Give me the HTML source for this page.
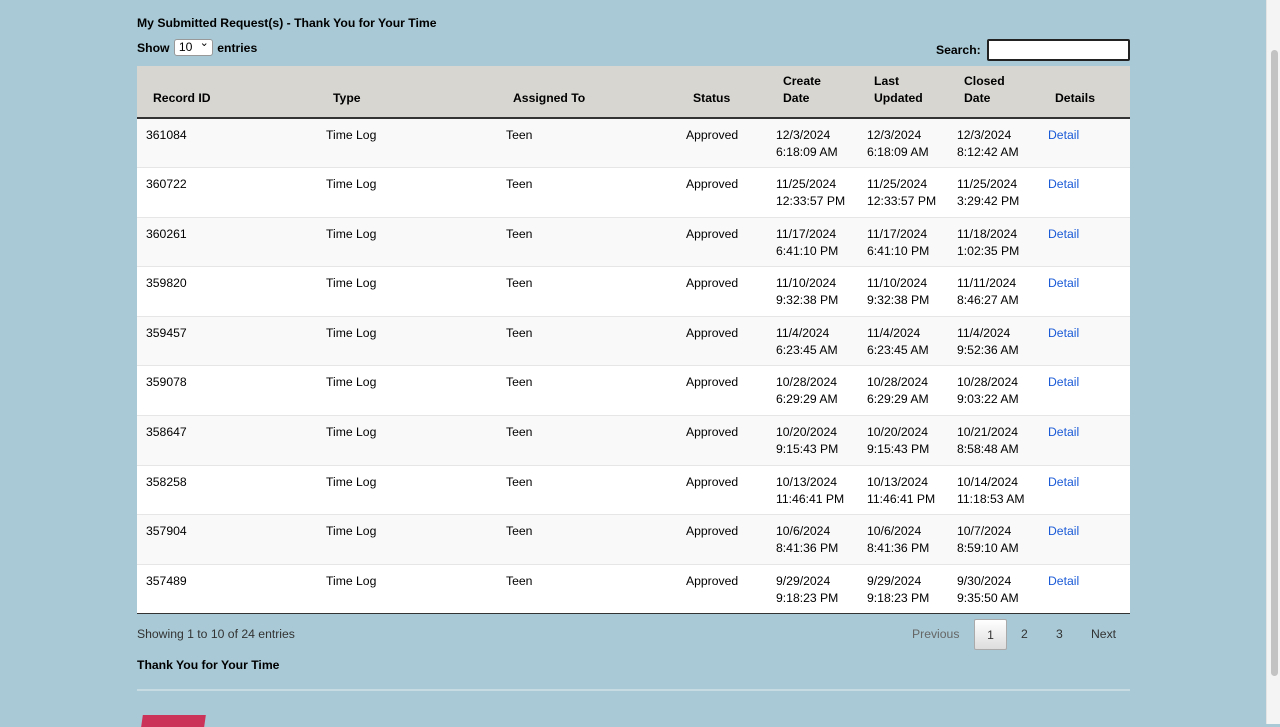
<!DOCTYPE html>
<html><head><meta charset="utf-8"><style>
*{box-sizing:border-box}
body{margin:0;width:1280px;height:724px;overflow:hidden;background:#a8c9d5;font-family:"Liberation Sans",Arial,sans-serif;font-size:12.2px;color:#000;position:relative}
.sb{position:absolute;left:1266px;top:0;width:14px;height:724px;background:#f4f4f4;border-left:1px solid #e4e4e4}
.sb div{position:absolute;left:4px;top:50px;width:7px;height:626px;background:#c3c3c3;border-radius:4px}
.t1{position:absolute;left:137px;top:16px;font-weight:bold}
.show{position:absolute;left:137px;top:41px;font-weight:bold}
.sel{display:inline-block;width:39px;height:17px;background:#fff;border:1px solid #999;border-radius:3px;font-weight:normal;vertical-align:middle;margin:-3px 1px 0;padding-left:4px;line-height:15px;position:relative}
.sel:after{content:"⌄";position:absolute;right:3px;top:-4px;font-size:11px}
.search{position:absolute;left:936px;top:43px;font-weight:bold}
.sbox{position:absolute;left:987px;top:39px;width:143px;height:22px;background:#fff;border:2px solid #222;border-radius:2px}
table{position:absolute;left:137px;top:66px;width:993px;border-collapse:collapse;table-layout:fixed}
th{background:#d7d6d1;height:52px;text-align:left;vertical-align:bottom;padding:0 4px 10px 16px;font-weight:bold;line-height:17px;border-bottom:2px solid #333}
td{height:49.6px;vertical-align:top;padding:8px 2px 0 9px;line-height:17px;border-top:1px solid #e6e6e6}
tr:first-child td{border-top:none}
tbody tr:nth-child(odd){background:#f9f9f9}
tbody tr:nth-child(even){background:#fff}
tbody tr:last-child td{border-bottom:1px solid #333}
a{color:#1a5ad7;text-decoration:none}
.info{position:absolute;left:137px;top:627px;color:#333}
.pg{position:absolute;top:619px;height:31px;line-height:31px;color:#333}
.cur{left:974px;width:33px;border:1px solid #aaa;border-radius:2px;background:linear-gradient(#fff,#ddd);text-align:center}
.ty{position:absolute;left:137px;top:658px;font-weight:bold}
.hr{position:absolute;left:137px;top:689px;width:993px;height:2px;background:#c7dbe3}
.red{position:absolute;left:142px;top:715px;width:63px;height:12px;background:#cc3358;transform:skewX(-8deg)}
</style></head><body>
<div class="sb"><div></div></div>
<div class="t1">My Submitted Request(s) - Thank You for Your Time</div>
<div class="show">Show <span class="sel">10</span> entries</div>
<div class="search">Search:</div><div class="sbox"></div>
<table>
<colgroup><col style="width:180px"><col style="width:180px"><col style="width:180px"><col style="width:90px"><col style="width:91px"><col style="width:90px"><col style="width:91px"><col style="width:91px"></colgroup>
<thead><tr><th>Record ID</th><th>Type</th><th>Assigned To</th><th>Status</th><th>Create<br>Date</th><th>Last<br>Updated</th><th>Closed<br>Date</th><th>Details</th></tr></thead>
<tbody>
<tr><td>361084</td><td>Time Log</td><td>Teen</td><td>Approved</td><td>12/3/2024<br>6:18:09 AM</td><td>12/3/2024<br>6:18:09 AM</td><td>12/3/2024<br>8:12:42 AM</td><td><a>Detail</a></td></tr>
<tr><td>360722</td><td>Time Log</td><td>Teen</td><td>Approved</td><td>11/25/2024<br>12:33:57 PM</td><td>11/25/2024<br>12:33:57 PM</td><td>11/25/2024<br>3:29:42 PM</td><td><a>Detail</a></td></tr>
<tr><td>360261</td><td>Time Log</td><td>Teen</td><td>Approved</td><td>11/17/2024<br>6:41:10 PM</td><td>11/17/2024<br>6:41:10 PM</td><td>11/18/2024<br>1:02:35 PM</td><td><a>Detail</a></td></tr>
<tr><td>359820</td><td>Time Log</td><td>Teen</td><td>Approved</td><td>11/10/2024<br>9:32:38 PM</td><td>11/10/2024<br>9:32:38 PM</td><td>11/11/2024<br>8:46:27 AM</td><td><a>Detail</a></td></tr>
<tr><td>359457</td><td>Time Log</td><td>Teen</td><td>Approved</td><td>11/4/2024<br>6:23:45 AM</td><td>11/4/2024<br>6:23:45 AM</td><td>11/4/2024<br>9:52:36 AM</td><td><a>Detail</a></td></tr>
<tr><td>359078</td><td>Time Log</td><td>Teen</td><td>Approved</td><td>10/28/2024<br>6:29:29 AM</td><td>10/28/2024<br>6:29:29 AM</td><td>10/28/2024<br>9:03:22 AM</td><td><a>Detail</a></td></tr>
<tr><td>358647</td><td>Time Log</td><td>Teen</td><td>Approved</td><td>10/20/2024<br>9:15:43 PM</td><td>10/20/2024<br>9:15:43 PM</td><td>10/21/2024<br>8:58:48 AM</td><td><a>Detail</a></td></tr>
<tr><td>358258</td><td>Time Log</td><td>Teen</td><td>Approved</td><td>10/13/2024<br>11:46:41 PM</td><td>10/13/2024<br>11:46:41 PM</td><td>10/14/2024<br>11:18:53 AM</td><td><a>Detail</a></td></tr>
<tr><td>357904</td><td>Time Log</td><td>Teen</td><td>Approved</td><td>10/6/2024<br>8:41:36 PM</td><td>10/6/2024<br>8:41:36 PM</td><td>10/7/2024<br>8:59:10 AM</td><td><a>Detail</a></td></tr>
<tr><td>357489</td><td>Time Log</td><td>Teen</td><td>Approved</td><td>9/29/2024<br>9:18:23 PM</td><td>9/29/2024<br>9:18:23 PM</td><td>9/30/2024<br>9:35:50 AM</td><td><a>Detail</a></td></tr>
</tbody></table>
<div class="info">Showing 1 to 10 of 24 entries</div>
<div class="pg" style="left:912px;color:#666">Previous</div>
<div class="pg cur">1</div>
<div class="pg" style="left:1021px">2</div>
<div class="pg" style="left:1056px">3</div>
<div class="pg" style="left:1091px">Next</div>
<div class="ty">Thank You for Your Time</div>
<div class="hr"></div>
<div class="red"></div>
</body></html>
